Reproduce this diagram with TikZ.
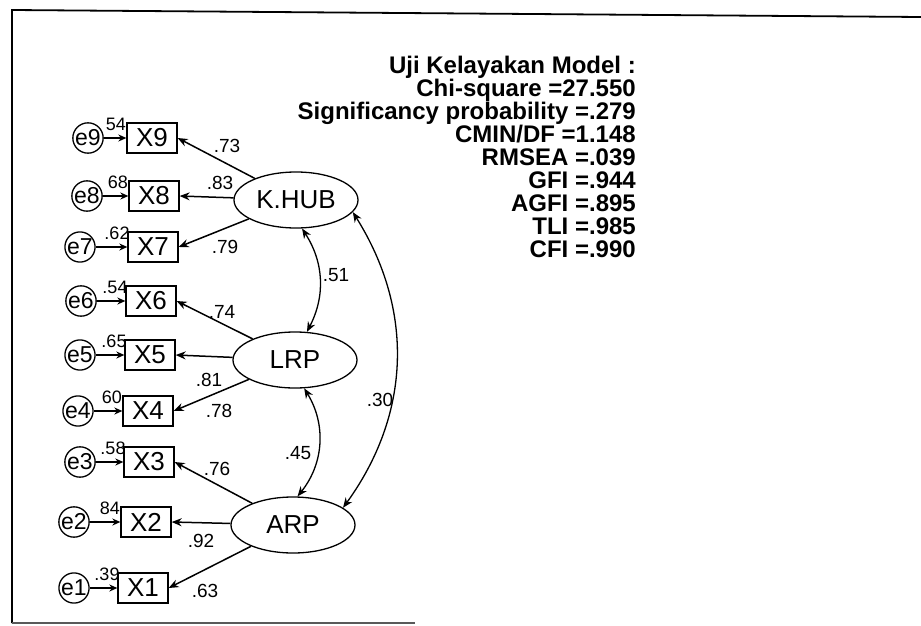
\documentclass[tikz,border=0pt]{standalone}
\usepackage{fontspec}
\setmainfont{Liberation Sans}
\usetikzlibrary{arrows.meta,shapes.geometric}
\begin{document}
\begin{tikzpicture}[x=1pt,y=-1pt,
  obs/.style={draw, line width=1.3pt, minimum width=50pt, minimum height=30pt, inner sep=0pt, font=\fontsize{26}{26}\selectfont},
  err/.style={draw, circle, line width=1.3pt, minimum size=30pt, inner sep=0pt, font=\fontsize{23}{23}\selectfont},
  lat/.style={draw, ellipse, line width=1.3pt, minimum width=124pt, minimum height=56pt, inner sep=0pt, font=\fontsize{26}{26}\selectfont},
  ld/.style={line width=1.5pt, -{Stealth[length=10pt,width=8pt]}},
  eld/.style={line width=1.3pt, -{Stealth[length=8pt,width=7pt]}},
  cov/.style={line width=1.3pt, {Stealth[length=10pt,width=8pt]}-{Stealth[length=10pt,width=8pt]}},
  lab/.style={font=\fontsize{19}{19}\selectfont, inner sep=0pt},
  rsq/.style={font=\fontsize{18}{18}\selectfont, inner sep=0pt},
  frame/.style={line width=1.8pt}
]
\useasboundingbox (0,0) rectangle (921,626);

% frame
\coordinate (ftl) at (12,10);
\coordinate (ftr) at (921,17);
\coordinate (fbl) at (12,623);
\coordinate (fbr) at (415,623);
\draw[frame] (ftr) -- (ftl) -- (fbl);
\draw[line width=1.3pt, black!65] (fbl) -- (fbr);

% latent variables
\node[lat] (khub) at (296,200) {K.HUB};
\node[lat] (lrp)  at (295,360) {LRP};
\node[lat] (arp)  at (293,525) {ARP};

% observed variables and errors
\foreach \i/\bx/\ex/\y/\r in {9/152/88/138/54, 8/154/87/196/68, 7/153/80/247/.62,
                             6/151/81/301/.54, 5/150/80/355/.65, 4/148/78/411/60,
                             3/149/80/462/.58, 2/146/74/522/84, 1/143/74/588/.39}{
  \node[obs] (x\i) at (\bx,\y) {X\i};
  \node[err] (e\i) at (\ex,\y) {e\i};
  \draw[eld] (e\i) -- (x\i);
  \node[rsq] (r\i) at (\bx-36,\y-14) {\r};
}

% loadings
\draw[ld] (khub) -- (x9.east);
\draw[ld] (khub) -- (x8.east);
\draw[ld] (khub) -- (x7.east);
\draw[ld] (lrp) -- (x6.east);
\draw[ld] (lrp) -- (x5.east);
\draw[ld] (lrp) -- (x4.east);
\draw[ld] (arp) -- (x3.east);
\draw[ld] (arp) -- (x2.east);
\draw[ld] (arp) -- (x1.east);

\node[lab] (l9) at (227,146) {.73};
\node[lab] (l8) at (220,183) {.83};
\node[lab] (l7) at (225,247) {.79};
\node[lab] (l6) at (222,312) {.74};
\node[lab] (l5) at (209,380) {.81};
\node[lab] (l4) at (219,411) {.78};
\node[lab] (l3) at (217,469) {.76};
\node[lab] (l2) at (201,541) {.92};
\node[lab] (l1) at (205,591) {.63};

% covariances
\draw[cov] (khub.-78) to[bend left=30] (lrp.67);
\draw[cov] (lrp.-72) to[bend left=35] (arp.81);
\draw[cov] (khub.-12) to[bend left=34] (arp.19);
\node[lab] (c1) at (336,275) {.51};
\node[lab] (c2) at (298,453) {.45};
\node[lab] (c3) at (380,400) {.30};

% fit statistics
\node[anchor=north east, align=right, inner sep=0pt,
      font=\bfseries\fontsize{24}{23}\selectfont] (fit) at (636,56)
  {Uji Kelayakan Model :\\
   Chi-square =27.550\\
   Significancy probability =.279\\
   CMIN/DF =1.148\\
   RMSEA =.039\\
   GFI =.944\\
   AGFI =.895\\
   TLI =.985\\
   CFI =.990};
\end{tikzpicture}
\end{document}
